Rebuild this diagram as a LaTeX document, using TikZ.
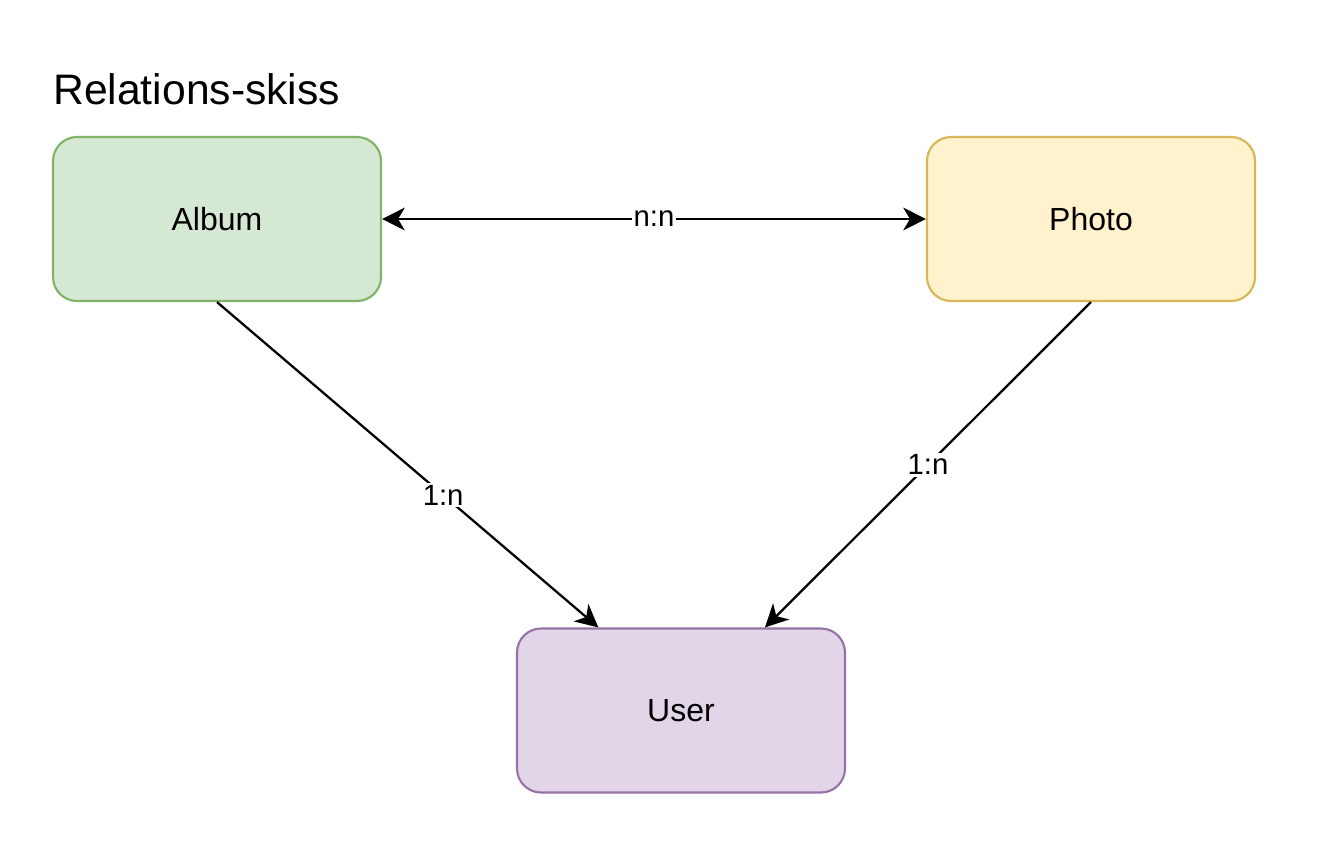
\documentclass[tikz,border=0pt]{standalone}
\usepackage{fontspec}
\setmainfont{Liberation Sans}
\usetikzlibrary{arrows.meta}
\definecolor{gfill}{HTML}{D5E8D4}\definecolor{gdraw}{HTML}{82B366}
\definecolor{yfill}{HTML}{FFF2CC}\definecolor{ydraw}{HTML}{D6B656}
\definecolor{pfill}{HTML}{E1D5E7}\definecolor{pdraw}{HTML}{9673A6}
\begin{document}
\begin{tikzpicture}[x=0.75pt,y=-0.75pt,
  box/.style={rectangle,rounded corners=18pt,line width=1.6pt,minimum width=246pt,minimum height=123pt,inner sep=0pt,font=\fontsize{24}{28}\selectfont},
  conn/.style={line width=1.7pt,-{Stealth[length=17pt,width=17pt,inset=5pt]}},
  lbl/.style={fill=white,inner sep=1.5pt,font=\fontsize{22}{25}\selectfont}]
\useasboundingbox (0,0) rectangle (1330,864);
\node[anchor=base west,font=\fontsize{32}{37}\selectfont,inner sep=0pt] (title) at (53,104) {Relations-skiss};
\node[box,fill=gfill,draw=gdraw] (album) at (217,219) {Album};
\node[box,fill=yfill,draw=ydraw] (photo) at (1091,219) {Photo};
\node[box,fill=pfill,draw=pdraw] (user) at (681,710.5) {User};
\draw[conn,{Stealth[length=17pt,width=17pt,inset=5pt]}-{Stealth[length=17pt,width=17pt,inset=5pt]}] (album.east) -- node[lbl]{n:n} (photo.east -| photo.west);
\draw[conn] (album.south) -- node[lbl,pos=0.593]{1:n} ([xshift=-62pt]user.north);
\draw[conn] (photo.south) -- node[lbl,pos=0.5]{1:n} ([xshift=63pt]user.north);
\end{tikzpicture}
\end{document}
